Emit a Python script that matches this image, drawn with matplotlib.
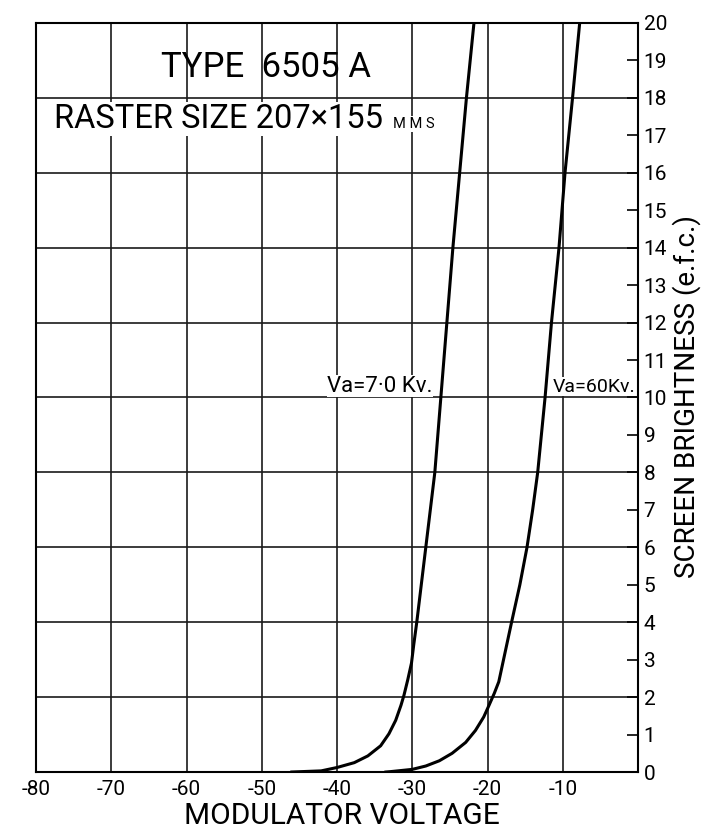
import matplotlib
matplotlib.use('Agg')
import matplotlib.pyplot as plt

# curve data (modulator voltage, screen brightness in e.f.c.)
va70_volts = [-46, -44.7, -42.1, -40, -37.7, -35.9, -34.2, -33.1, -32.2, -31.5, -31.1, -30.6, -30.1,
              -29.8, -29.4, -28.2, -27.0, -26.2, -25.4, -24.6, -23.7, -22.8, -21.8]
va70_bright = [0.0, 0.01, 0.03, 0.12, 0.25, 0.43, 0.70, 1.02, 1.38, 1.78, 2.05, 2.46, 2.91,
               3.4, 4.0, 6.0, 8.0, 10.0, 12.0, 14.0, 16.0, 18.0, 20.0]
va60_volts = [-33.5, -32.9, -30, -28.2, -26.4, -24.7, -22.9, -21.6, -20.5, -19.8, -19.1, -18.5,
              -16.8, -15.7, -14.75, -14.0, -13.33, -12.84, -12.35, -11.5, -10.5, -9.7, -8.7, -7.75]
va60_bright = [0.0, 0.01, 0.07, 0.16, 0.30, 0.50, 0.79, 1.11, 1.47, 1.78, 2.10, 2.41,
               4.0, 5.0, 6.0, 7.0, 8.0, 9.0, 10.0, 12.0, 14.0, 16.0, 18.0, 20.0]

x_ticks = [-80, -70, -60, -50, -40, -30, -20, -10]
x_labels = ['-80', '-70', '-60', '-50', '-40', '-30', '-20', '-10']
y_ticks = list(range(0, 21))
grid_x = [-80, -70, -60, -50, -40, -30, -20, -10, 0]
grid_y = [0, 2, 4, 6, 8, 10, 12, 14, 16, 18, 20]

plt.rcParams['font.family'] = ['Roboto', 'DejaVu Sans']

fig = plt.figure(figsize=(7.02, 8.30), dpi=100)
ax = fig.add_axes([36 / 702, 58 / 830, 602 / 702, 749 / 830])

for gx in grid_x:
    ax.axvline(gx, color='#1a1a1a', lw=1.2, zorder=1)
for gy in grid_y:
    ax.axhline(gy, color='#1a1a1a', lw=1.2, zorder=1)

ax.plot(va70_volts, va70_bright, color='black', lw=2.2, zorder=4)
ax.plot(va60_volts, va60_bright, color='black', lw=2.2, zorder=4)

ax.set_xlim(-80, 0)
ax.set_ylim(0, 20)

ax.set_xticks(x_ticks)
ax.set_xticklabels(x_labels, fontsize=15)
ax.tick_params(axis='x', length=0, pad=6)

ax.yaxis.tick_right()
ax.set_yticks(y_ticks)
ax.set_yticklabels([str(v) for v in y_ticks], fontsize=15)
ax.tick_params(axis='y', direction='in', length=8, width=1.2, pad=4)

for sp in ax.spines.values():
    sp.set_linewidth(1.5)
    sp.set_color('black')

fig.text(342 / 702, 1 - 816 / 830, 'MODULATOR VOLTAGE', fontsize=21.5, ha='center', va='center')
fig.text(687 / 702, 1 - 397 / 830, 'SCREEN BRIGHTNESS (e.f.c.)', fontsize=20,
         rotation=90, ha='center', va='center')

ax.text(-49.5, 18.8, 'TYPE  6505 A', fontsize=25, ha='center', va='center')
ax.text(-77.6, 17.2, 'RASTER SIZE 207×155', fontsize=23.5, ha='left', va='baseline', zorder=3,
        bbox=dict(facecolor='white', edgecolor='none', pad=0.5))
ax.text(-32.6, 17.2, 'M M S', fontsize=10.5, ha='left', va='baseline', zorder=3,
        bbox=dict(facecolor='white', edgecolor='none', pad=0.5))

ax.text(-41.3, 10.15, 'Va=7·0 Kv.', fontsize=16, ha='left', va='baseline', zorder=3,
        bbox=dict(facecolor='white', edgecolor='none', pad=0.3))
ax.text(-11.3, 10.15, 'Va=60Kv.', fontsize=14, ha='left', va='baseline', zorder=3,
        bbox=dict(facecolor='white', edgecolor='none', pad=0.3))

fig.savefig('out.png', dpi=100, facecolor='white')
